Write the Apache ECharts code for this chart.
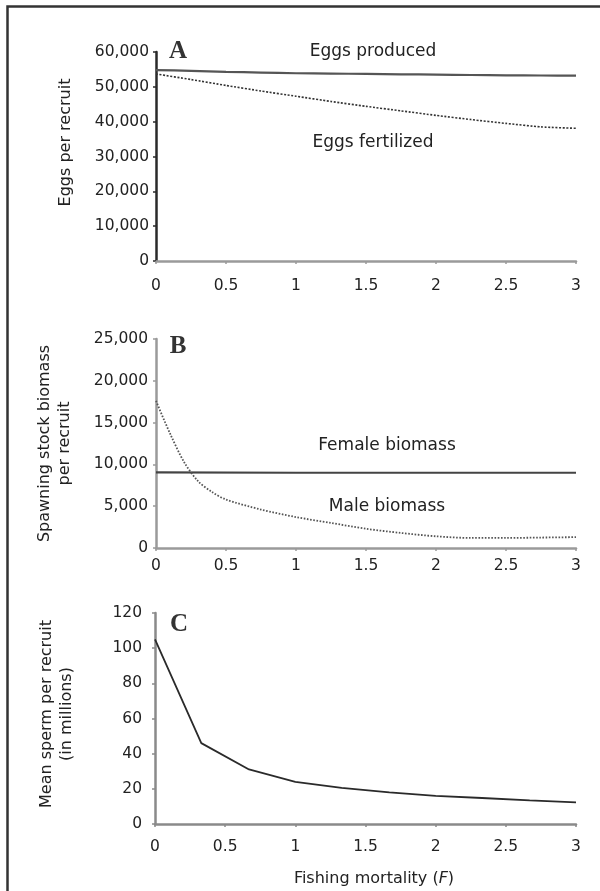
<!DOCTYPE html>
<html>
<head>
<meta charset="utf-8">
<script src="https://cdn.jsdelivr.net/npm/echarts@6/dist/echarts.min.js"></script>
<style>
html,body{margin:0;padding:0;background:#fff;}
#chart{width:600px;height:891px;}
</style>
</head>
<body>
<div id="chart"></div>
<script>
// ---- data ----
var xTickLabels = ['0', '0.5', '1', '1.5', '2', '2.5', '3'];
var yTicksA = ['0', '10,000', '20,000', '30,000', '40,000', '50,000', '60,000'];
var yTicksB = ['0', '5,000', '10,000', '15,000', '20,000', '25,000'];
var yTicksC = ['0', '20', '40', '60', '80', '100', '120'];

var fA = [0, 0.25, 0.5, 0.75, 1, 1.25, 1.5, 1.75, 2, 2.25, 2.5, 2.75, 3];
var eggsProduced = [54800, 54600, 54300, 54100, 53900, 53800, 53700, 53600, 53500, 53400, 53300, 53250, 53200];
var eggsFertilized = [53700, 52100, 50400, 48800, 47300, 45800, 44400, 43100, 41800, 40600, 39500, 38500, 38100];

var fFemale = [0, 1, 2, 3];
var femaleBiomass = [9050, 9000, 9000, 9000];
var fMale = [0, 0.1, 0.2, 0.3, 0.4, 0.5, 0.75, 1, 1.25, 1.5, 1.75, 2, 2.25, 2.5, 2.75, 3];
var maleBiomass = [17600, 13700, 10300, 8000, 6700, 5800, 4600, 3700, 3000, 2300, 1800, 1400, 1200, 1200, 1250, 1300];

var fSperm = [0, 0.33, 0.67, 1, 1.33, 1.67, 2, 2.33, 2.67, 3];
var spermPerRecruit = [105, 46, 31, 24, 20.5, 18, 16, 14.8, 13.4, 12.3];

function pairs(xs, ys) { return xs.map(function (x, i) { return [x, ys[i]]; }); }

var FONT = 'DejaVu Sans';
var TXT = '#222';

function xAxisCfg(gridIndex, color, margin, extra) {
  var a = {
    type: 'value', gridIndex: gridIndex, min: 0, max: 3, interval: 0.5,
    axisLine: { show: true, onZero: false, lineStyle: { color: color, width: 2.5 } },
    axisTick: { show: true, length: 3, lineStyle: { color: color, width: 1.5 } },
    axisLabel: {
      margin: margin, fontFamily: FONT, fontSize: 15.5, color: TXT,
      formatter: function (v) { return xTickLabels[Math.round(v / 0.5)]; }
    },
    splitLine: { show: false }
  };
  if (extra) { for (var k in extra) a[k] = extra[k]; }
  return a;
}
function yAxisCfg(gridIndex, max, interval, labels, color, margin, name, nameGap, padLeft) {
  return {
    type: 'value', gridIndex: gridIndex, min: 0, max: max, interval: interval,
    axisLine: { show: true, lineStyle: { color: color, width: 2.5 } },
    axisTick: { show: true, length: 3, lineStyle: { color: color, width: 1.5 } },
    axisLabel: {
      margin: margin, fontFamily: FONT, fontSize: 15.5, color: TXT,
      formatter: function (v) { return labels[Math.round(v / interval)]; }
    },
    splitLine: { show: false },
    name: name, nameLocation: 'middle', nameRotate: 90, nameGap: nameGap,
    nameTextStyle: { fontFamily: FONT, fontSize: 16, color: TXT, lineHeight: 20, padding: [0, 0, 0, padLeft] }
  };
}

var chart = echarts.init(document.getElementById('chart'), null, { renderer: 'canvas' });
var option = {
  animation: false,
  backgroundColor: '#fff',
  grid: [
    { left: 156, width: 420, top: 52, height: 209 },
    { left: 156, width: 420, top: 339, height: 209 },
    { left: 155, width: 421, top: 613, height: 211 }
  ],
  xAxis: [
    xAxisCfg(0, '#9a9a9a', 17),
    xAxisCfg(1, '#9a9a9a', 10),
    xAxisCfg(2, '#8a8a8a', 15, {
      name: 'Fishing mortality ({i|F})', nameLocation: 'middle', nameGap: 47,
      nameTextStyle: {
        fontFamily: FONT, fontSize: 16, color: TXT, padding: [0, 0, 0, 17],
        rich: { i: { fontFamily: FONT, fontSize: 16, color: TXT, fontStyle: 'italic' } }
      }
    })
  ],
  yAxis: [
    yAxisCfg(0, 60000, 10000, yTicksA, '#2a2a2a', 7, 'Eggs per recruit', 80, 28),
    yAxisCfg(1, 25000, 5000, yTicksB, '#9a9a9a', 8, 'Spawning stock biomass\nper recruit', 81, 0),
    yAxisCfg(2, 120, 20, yTicksC, '#8a8a8a', 13, 'Mean sperm per recruit\n(in millions)', 78, 9)
  ],
  series: [
    { type: 'line', xAxisIndex: 0, yAxisIndex: 0, data: pairs(fA, eggsProduced), showSymbol: false, smooth: 0.2,
      lineStyle: { color: '#555', width: 2.2 } },
    { type: 'line', xAxisIndex: 0, yAxisIndex: 0, data: pairs(fA, eggsFertilized), showSymbol: false, smooth: 0.2,
      lineStyle: { color: '#333', width: 1.6, type: [2, 1.6] } },
    { type: 'line', xAxisIndex: 1, yAxisIndex: 1, data: pairs(fFemale, femaleBiomass), showSymbol: false,
      lineStyle: { color: '#444', width: 2.2 } },
    { type: 'line', xAxisIndex: 1, yAxisIndex: 1, data: pairs(fMale, maleBiomass), showSymbol: false, smooth: 0.3,
      lineStyle: { color: '#555', width: 1.8, type: [1.6, 1.6] } },
    { type: 'line', xAxisIndex: 2, yAxisIndex: 2, data: pairs(fSperm, spermPerRecruit), showSymbol: false,
      lineStyle: { color: '#2a2a2a', width: 1.8 } }
  ],
  graphic: [
    { type: 'polyline', silent: true, shape: { points: [[7.5, 900], [7.5, 6.5], [610, 6.5]] },
      style: { stroke: '#333', lineWidth: 2.5, fill: null } },
    { type: 'text', x: 178, y: 52, style: { text: 'A', font: 'bold 25px "Liberation Serif"', fill: '#333', align: 'center', verticalAlign: 'middle' } },
    { type: 'text', x: 178, y: 347, style: { text: 'B', font: 'bold 25px "Liberation Serif"', fill: '#333', align: 'center', verticalAlign: 'middle' } },
    { type: 'text', x: 179, y: 625, style: { text: 'C', font: 'bold 25px "Liberation Serif"', fill: '#333', align: 'center', verticalAlign: 'middle' } },
    { type: 'text', x: 373, y: 52, style: { text: 'Eggs produced', font: '17px "DejaVu Sans"', fill: TXT, align: 'center', verticalAlign: 'middle' } },
    { type: 'text', x: 373, y: 143, style: { text: 'Eggs fertilized', font: '17px "DejaVu Sans"', fill: TXT, align: 'center', verticalAlign: 'middle' } },
    { type: 'text', x: 387, y: 446, style: { text: 'Female biomass', font: '17px "DejaVu Sans"', fill: TXT, align: 'center', verticalAlign: 'middle' } },
    { type: 'text', x: 387, y: 507, style: { text: 'Male biomass', font: '17px "DejaVu Sans"', fill: TXT, align: 'center', verticalAlign: 'middle' } }
  ]
};
chart.setOption(option);
</script>
</body>
</html>
